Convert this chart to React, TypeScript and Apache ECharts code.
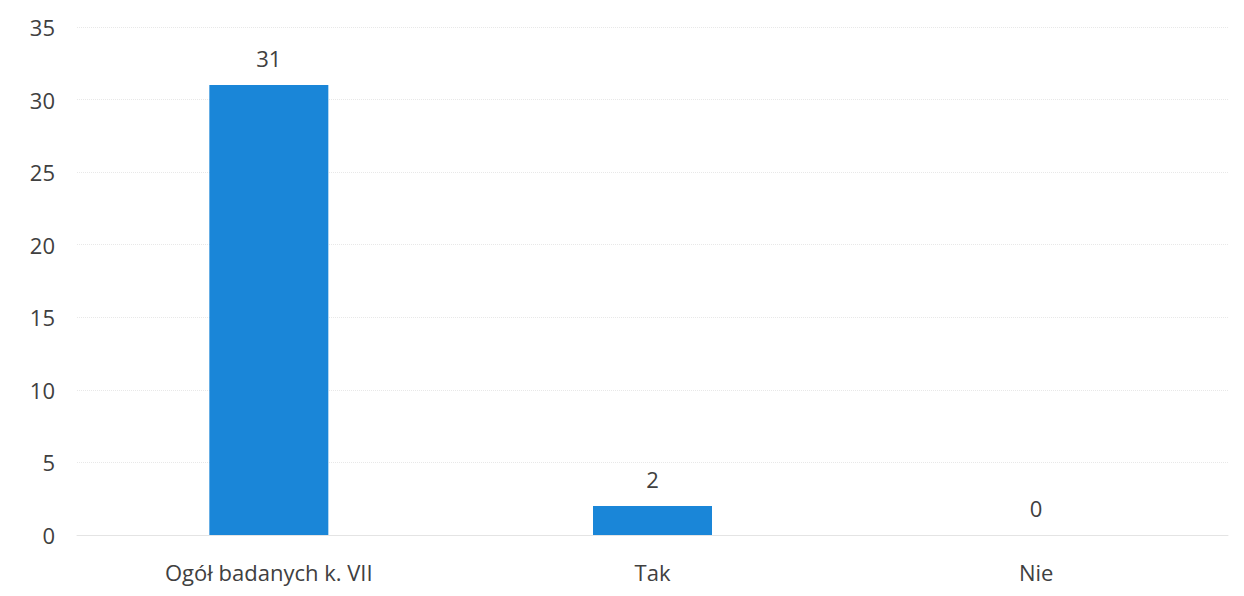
import React, { useEffect, useRef } from "react";
import * as echarts from "echarts";

const categories = ["Ogół badanych k. VII", "Tak", "Nie"];
const values = [31, 2, 0];
const yTicks = { min: 0, max: 35, interval: 5 };

export default function App() {
  const ref = useRef<HTMLDivElement>(null);
  useEffect(() => {
    if (!ref.current) return;
    const chart = echarts.init(ref.current, undefined, { renderer: "svg" });
    const font = "Open Sans, Liberation Sans, sans-serif";
    chart.setOption({
      animation: false,
      backgroundColor: "#ffffff",
      grid: { left: 77, right: 16, top: 27, bottom: 61, containLabel: false },
      xAxis: {
        type: "category",
        data: categories,
        axisLine: { show: true, lineStyle: { color: "#e4e4e4", width: 1 } },
        axisTick: { show: false },
        axisLabel: { color: "#404040", fontSize: 22, fontFamily: font, margin: 26 },
      },
      yAxis: {
        type: "value",
        min: yTicks.min,
        max: yTicks.max,
        interval: yTicks.interval,
        axisLine: { show: false },
        axisTick: { show: false },
        splitLine: { show: true, lineStyle: { color: "#e8e8e8", width: 1, type: "dotted" } },
        axisLabel: { color: "#404040", fontSize: 22, fontFamily: font, margin: 22 },
      },
      series: [
        {
          type: "bar",
          data: values,
          barWidth: 119,
          itemStyle: { color: "#1a86d8" },
          label: {
            show: true,
            position: "top",
            distance: 16,
            color: "#404040",
            fontSize: 22,
            fontFamily: font,
          },
        },
      ],
    });
    return () => chart.dispose();
  }, []);
  return (
    <div
      ref={ref}
      style={{ position: "fixed", left: 0, top: 0, width: 1244, height: 596, background: "#fff" }}
    />
  );
}
